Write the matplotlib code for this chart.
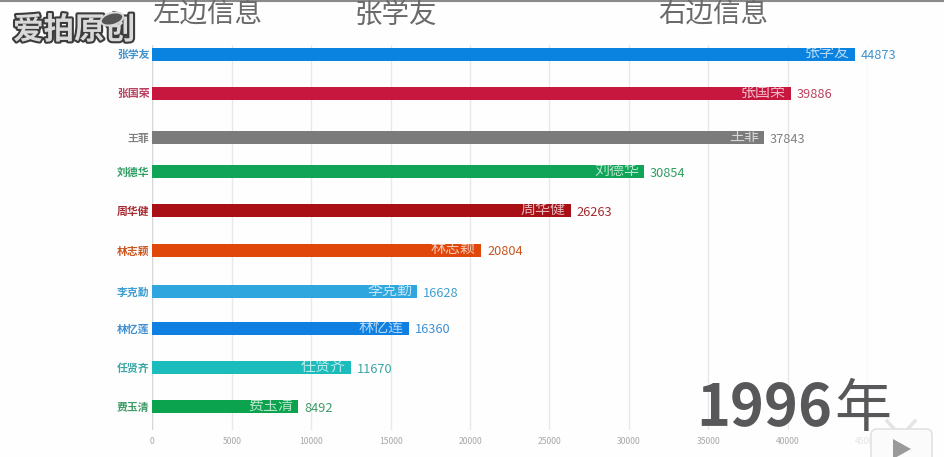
import matplotlib
matplotlib.use('Agg')
import matplotlib.pyplot as plt
import matplotlib.patheffects as pe
from matplotlib.patches import FancyBboxPatch, Polygon, Ellipse

plt.rcParams['font.family'] = ['Noto Sans CJK SC', 'DejaVu Sans']

names = ['张学友', '张国荣', '王菲', '刘德华', '周华健', '林志颖', '李克勤', '林忆莲', '任贤齐', '费玉清']
# the frame is mid animation: bar lengths lag the printed numbers, two rows are between ranks
bar_values = [44240, 40200, 38500, 30950, 26350, 20690, 16660, 16150, 12500, 9160]
value_labels = [44873, 39886, 37843, 30854, 26263, 20804, 16628, 16360, 11670, 8492]
ranks = [0, 1, 2.14, 3, 4, 5.01, 6.07, 7, 8, 9]
colors = ['#0a82e0', '#c7173f', '#7b7b7b', '#0fa457', '#a91016',
          '#e0480b', '#2fa6de', '#0f80e2', '#1bbcbc', '#0ca34f']
text_colors = ['#3f92cc', '#b9405f', '#808080', '#2f9e62', '#a52a30',
               '#c9561f', '#3f9fcf', '#3f8fd0', '#3aa5a5', '#3f9a68']
xticks = [0, 5000, 10000, 15000, 20000, 25000, 30000, 35000, 40000, 45000]

W, H = 945, 457
fig = plt.figure(figsize=(W / 100, H / 100), dpi=100, facecolor='#fefefe')

# axes placed in pixels, zero at x=152.5, rank 0 at y=54
ax = fig.add_axes([152.5 / W, (H - 430) / H, (W - 152.5) / W, 385 / H])
ax.set_xlim(0, (W - 152.5) / 15.88 * 1000)
ax.set_ylim((430 - 54) / 39.2, (45 - 54) / 39.2)
ax.set_facecolor('none')
for s in ax.spines.values():
    s.set_visible(False)
ax.set_axisbelow(True)
ax.grid(axis='x', color='#e8e8e8', lw=1)
ax.axvline(0, color='#d8d8d8', lw=1, zorder=1)

ax.barh(ranks, bar_values, height=13 / 39.2, color=colors, zorder=2)

ax.set_xticks(xticks)
ax.set_xticklabels([str(v) for v in xticks], fontsize=6.2, color='#a8a8a8')
ax.get_xticklabels()[-1].set_color('#e4e4e4')
ax.get_xgridlines()[-1].set_color('#f9f9f9')
ax.tick_params(axis='x', length=0, pad=5)
ax.set_yticks(ranks)
ax.set_yticklabels(names, fontsize=7.8, fontweight='bold')
ax.tick_params(axis='y', length=0, pad=2)
for lab, c in zip(ax.get_yticklabels(), text_colors):
    lab.set_color(c)

for r, v, lab, name, c in zip(ranks, bar_values, value_labels, names, text_colors):
    ax.annotate(str(lab), (v, r), xytext=(6, -1.5), textcoords='offset pixels',
                va='center', ha='left', fontsize=9.2, color=c, zorder=4)
    ax.annotate(name, (v, r), xytext=(-5, 1), textcoords='offset pixels',
                va='center', ha='right', fontsize=10.8, color='white', alpha=0.7, zorder=4)

# overlay in image pixels for the titles and the video decorations
ov = fig.add_axes([0, 0, 1, 1], facecolor='none')
ov.set_xlim(0, W)
ov.set_ylim(H, 0)
ov.axis('off')

for x, s in [(207, '左边信息'), (396, '张学友'), (713, '右边信息')]:
    ov.text(x, 23, s, ha='center', va='baseline', fontsize=19.8, color='#6a6a6a', fontweight='light')

ov.plot([0, W], [0.5, 0.5], color='#8a8a8a', lw=1.5)

# watermark
ov.text(13, 30, '爱拍原创', ha='left', va='center', fontsize=22, fontweight='black', color='#d9d9d9',
        path_effects=[pe.withStroke(linewidth=3, foreground='#3c3c3c')])
ov.add_patch(Ellipse((112, 19), 23, 12, angle=-15, fc='#555555', ec='#d8d8d8', lw=1.4, zorder=4))

# year
ov.text(696, 408, '1996', ha='left', va='center', fontsize=41.5, fontweight='bold', color='#58585a', zorder=5)
ov.text(834, 410, '年', ha='left', va='center', fontsize=41, color='#58585a', zorder=5)

# player button, bottom right
ov.plot([887, 897], [421, 432], color='#e4e4e4', lw=2.5, zorder=6)
ov.plot([915, 905], [421, 432], color='#e4e4e4', lw=2.5, zorder=6)
ov.add_patch(FancyBboxPatch((873, 431), 57, 40, boxstyle='round,pad=2,rounding_size=6',
                            fc='#fbfbfb', ec='#e2e2e2', lw=1.2, zorder=7))
ov.add_patch(Polygon([(893, 439), (911, 449), (893, 459)], fc='#9a9a9a', ec='none', zorder=8))

fig.savefig('out.png', dpi=100, facecolor=fig.get_facecolor())
